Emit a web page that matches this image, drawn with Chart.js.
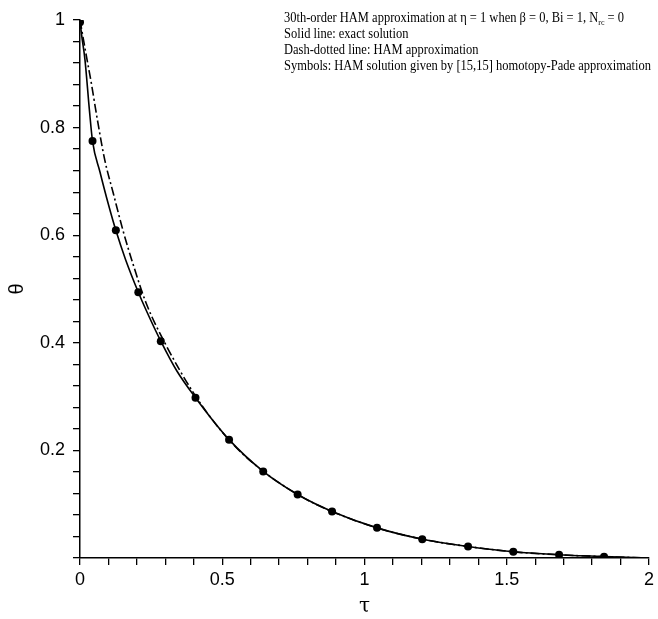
<!DOCTYPE html>
<html>
<head>
<meta charset="utf-8">
<script src="https://cdn.jsdelivr.net/npm/chart.js@4/dist/chart.umd.min.js"></script>
<style>
    html, body { margin: 0; padding: 0; background: #fff; }
    #wrap { width: 658px; height: 619px; position: relative; }
</style>
</head>
<body>
<div id="wrap"><canvas id="chart"></canvas></div>
<script>
// exact solution (solid line)
const tauExact = [0, 0.005, 0.0175, 0.033, 0.044, 0.07, 0.1, 0.126, 0.16, 0.205, 0.233, 0.284, 0.34, 0.406, 0.524, 0.644, 0.765, 0.886, 1.044, 1.203, 1.364, 1.523, 1.684, 1.842, 2.0];
const thetaExact = [1.0, 0.975, 0.926, 0.833, 0.775, 0.718, 0.657, 0.609, 0.555, 0.494, 0.46, 0.403, 0.348, 0.298, 0.22, 0.161, 0.118, 0.0865, 0.056, 0.035, 0.0214, 0.0115, 0.006, 0.0025, 0.0];

// 30th-order HAM approximation (dash-dotted line)
const tauHam = [0, 0.02, 0.04, 0.06, 0.087, 0.117, 0.151, 0.186, 0.233, 0.3, 0.4, 0.5, 0.6, 0.765, 0.886, 1.044, 1.203, 1.364, 1.523, 1.684, 1.842, 2.0];
const thetaHam = [1.0, 0.94, 0.882, 0.818, 0.74, 0.678, 0.609, 0.547, 0.473, 0.398, 0.306, 0.234, 0.18, 0.118, 0.0865, 0.056, 0.035, 0.0214, 0.0115, 0.006, 0.0025, 0.0];

// [15,15] homotopy-Pade (symbols)
const tauPade = [0, 0.044, 0.126, 0.205, 0.284, 0.406, 0.524, 0.644, 0.765, 0.886, 1.044, 1.203, 1.364, 1.523, 1.684, 1.842];
const thetaPade = [0.996, 0.775, 0.609, 0.494, 0.403, 0.298, 0.22, 0.161, 0.118, 0.0865, 0.056, 0.035, 0.0214, 0.0115, 0.006, 0.0025];

const noteLines = [
    'Solid line: exact solution',
    'Dash-dotted line: HAM approximation',
    'Symbols: HAM solution given by [15,15] homotopy-Pade approximation'
];

const toPoints = (xs, ys) => xs.map((x, i) => ({ x, y: ys[i] }));
const isMultiple = (v, step) => Math.abs(v / step - Math.round(v / step)) < 1e-6;

const SERIF = '"Liberation Serif", "Times New Roman", serif';

const notePlugin = {
    id: 'note',
    afterDraw(chart) {
        const ctx = chart.ctx;
        const left = 284;
        const baseY = 22;
        ctx.save();
        ctx.fillStyle = '#000';
        ctx.textBaseline = 'alphabetic';
        ctx.textAlign = 'left';
        ctx.font = '14px ' + SERIF;
        // keep the longest line inside the plot, ending near x=651
        const sx = Math.min(1, 367 / ctx.measureText(noteLines[2]).width);
        ctx.translate(left, 0);
        ctx.scale(sx, 1);
        let x = 0;
        const head = '30th-order HAM approximation at \u03b7 = 1 when \u03b2 = 0, Bi = 1, N';
        ctx.fillText(head, x, baseY);
        x += ctx.measureText(head).width;
        ctx.font = '9px ' + SERIF;
        ctx.fillText('rc', x, baseY + 3);
        x += ctx.measureText('rc').width;
        ctx.font = '14px ' + SERIF;
        ctx.fillText(' = 0', x, baseY);
        noteLines.forEach((line, i) => {
            ctx.fillText(line, 0, baseY + 16 * (i + 1));
        });
        ctx.restore();
    }
};

new Chart(document.getElementById('chart'), {
    type: 'line',
    data: {
        datasets: [
            {
                label: 'exact',
                data: toPoints(tauExact, thetaExact),
                borderColor: '#000',
                borderWidth: 1.6,
                pointRadius: 0,
                cubicInterpolationMode: 'monotone',
                fill: false
            },
            {
                label: 'HAM',
                data: toPoints(tauHam, thetaHam),
                borderColor: '#000',
                borderWidth: 1.6,
                borderDash: [9, 3, 2, 3],
                pointRadius: 0,
                cubicInterpolationMode: 'monotone',
                fill: false
            },
            {
                label: 'Pade',
                data: toPoints(tauPade, thetaPade),
                showLine: false,
                pointRadius: 4,
                pointBackgroundColor: '#000',
                pointBorderColor: '#000',
                pointBorderWidth: 0
            }
        ]
    },
    options: {
        responsive: true,
        maintainAspectRatio: false,
        animation: false,
        layout: { padding: { top: 20, right: 6, left: 0, bottom: 0 } },
        plugins: {
            legend: { display: false },
            tooltip: { enabled: false }
        },
        scales: {
            x: {
                type: 'linear',
                min: 0,
                max: 2,
                border: { display: true, color: '#000', width: 1.5 },
                grid: { drawOnChartArea: false, drawTicks: true, tickLength: 7, tickColor: '#000', lineWidth: 1.3 },
                ticks: {
                    stepSize: 0.1,
                    autoSkip: false,
                    maxRotation: 0,
                    padding: 4,
                    color: '#000',
                    font: { family: '"Liberation Sans", Arial, sans-serif', size: 18 },
                    callback: v => isMultiple(v, 0.5) ? String(Math.round(v * 10) / 10) : ''
                },
                title: {
                    display: true,
                    text: '\u03c4',
                    color: '#000',
                    font: { family: '"DejaVu Serif", serif', size: 20 },
                    padding: { top: 0, bottom: 0 }
                },
                afterFit: scale => { scale.height = 61; }
            },
            y: {
                type: 'linear',
                min: 0,
                max: 1,
                border: { display: true, color: '#000', width: 1.5 },
                grid: { drawOnChartArea: false, drawTicks: true, tickLength: 7, tickColor: '#000', lineWidth: 1.3 },
                ticks: {
                    stepSize: 0.04,
                    autoSkip: false,
                    padding: 8,
                    color: '#000',
                    font: { family: '"Liberation Sans", Arial, sans-serif', size: 18 },
                    callback: v => (v > 0.01 && isMultiple(v, 0.2)) ? String(Math.round(v * 10) / 10) : ''
                },
                title: {
                    display: true,
                    text: '\u03b8',
                    color: '#000',
                    font: { family: '"Liberation Sans", Arial, sans-serif', size: 20 },
                    padding: { top: 5, bottom: 4 }
                },
                afterFit: scale => { scale.width = 80; }
            }
        }
    },
    plugins: [notePlugin]
});
</script>
</body>
</html>
